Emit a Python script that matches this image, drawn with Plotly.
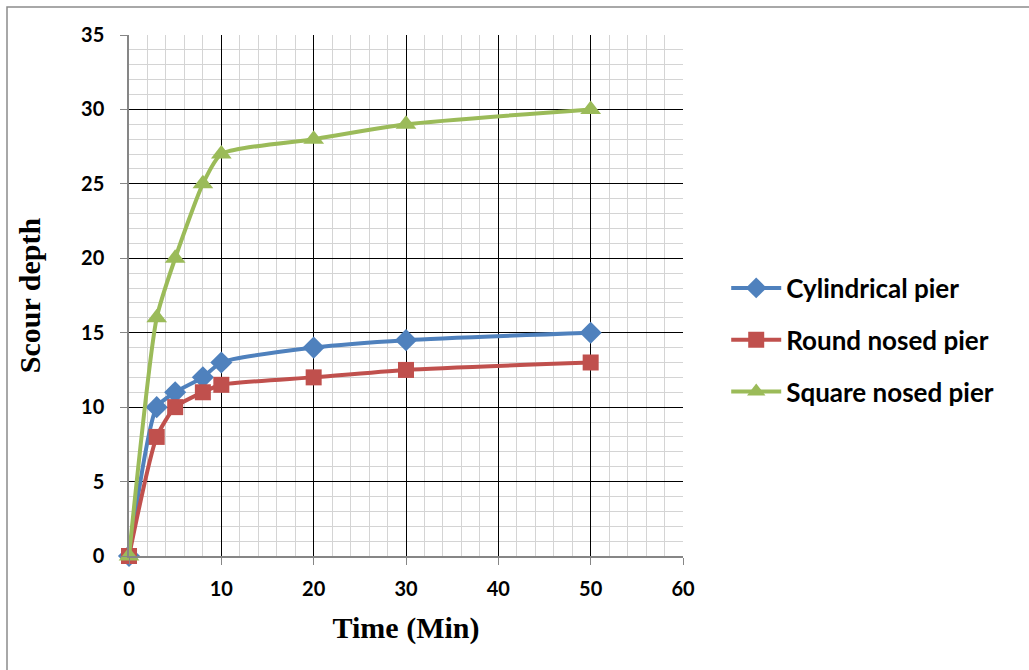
import plotly.graph_objects as go

time_min = [0, 3, 5, 8, 10, 20, 30, 50]
cylindrical = [0, 10, 11, 12, 13, 14, 14.5, 15]
round_nosed = [0, 8, 10, 11, 11.5, 12, 12.5, 13]
square_nosed = [0, 16, 20, 25, 27, 28, 29, 30]

series = [
    ("Cylindrical pier", cylindrical, "#4F81BD", "diamond", 17),
    ("Round nosed pier", round_nosed, "#C0504D", "square", 16),
    ("Square nosed pier", square_nosed, "#9BBB59", "triangle-up", 18),
]

fig = go.Figure()
for i, (name, vals, color, sym, size) in enumerate(series):
    fig.add_trace(go.Scatter(
        x=time_min, y=vals, name=name, mode="lines+markers",
        legendgroup=f"g{i}",
        line=dict(color=color, width=4, shape="spline", smoothing=0.6),
        marker=dict(symbol=sym, size=size, color=color),
        cliponaxis=False,
    ))

W, H = 1029, 670
L, T = 129, 35
pw, ph = 554, 521
R, B = W - L - pw, H - T - ph

fig.update_layout(
    width=W, height=H,
    margin=dict(l=L, r=R, t=T, b=B),
    paper_bgcolor="white", plot_bgcolor="white",
    font=dict(family="Lato", color="black"),
    showlegend=True,
    legend=dict(
        x=1.078, y=1 - (340 - T) / ph, xanchor="left", yanchor="middle",
        font=dict(family="Lato", size=26, color="black", weight="bold"),
        tracegroupgap=15, itemsizing="trace", itemwidth=50,
        bgcolor="rgba(0,0,0,0)",
    ),
    xaxis=dict(
        range=[0, 60], dtick=10, tick0=0,
        showgrid=True, gridcolor="black", gridwidth=1.3,
        showline=True, linecolor="#868686", linewidth=1.5,
        ticks="outside", ticklen=7, tickcolor="#868686", tickwidth=1.3,
        ticklabelstandoff=7,
        tickfont=dict(family="Lato", size=20, color="black", weight="bold"),
        zeroline=False,
        minor=dict(dtick=2, showgrid=True, gridcolor="#d4d4d4", gridwidth=1.3),
        title=dict(text="Time (Min)", standoff=18,
                   font=dict(family="Liberation Serif", size=30, color="black", weight="bold")),
    ),
    yaxis=dict(
        range=[0, 35], dtick=5, tick0=0,
        showgrid=True, gridcolor="black", gridwidth=1.3,
        showline=True, linecolor="#868686", linewidth=1.5,
        ticks="outside", ticklen=7, tickcolor="#868686", tickwidth=1.3,
        ticklabelstandoff=12,
        tickfont=dict(family="Lato", size=20, color="black", weight="bold"),
        zeroline=False,
        minor=dict(dtick=1, showgrid=True, gridcolor="#d4d4d4", gridwidth=1.3),
        title=dict(text="Scour depth", standoff=32,
                   font=dict(family="Liberation Serif", size=30, color="black", weight="bold")),
    ),
    shapes=[dict(
        type="rect", xref="paper", yref="paper", layer="below",
        x0=-(L - 7) / pw, x1=(W + 30 - L) / pw,
        y0=-(B + 30) / ph, y1=(ph + T - 7) / ph,
        line=dict(color="#8c8c8c", width=1.5), fillcolor="rgba(0,0,0,0)",
    )],
)

fig.write_html("out.html", config={"displayModeBar": False},
               post_script="document.body.style.margin='0';")
